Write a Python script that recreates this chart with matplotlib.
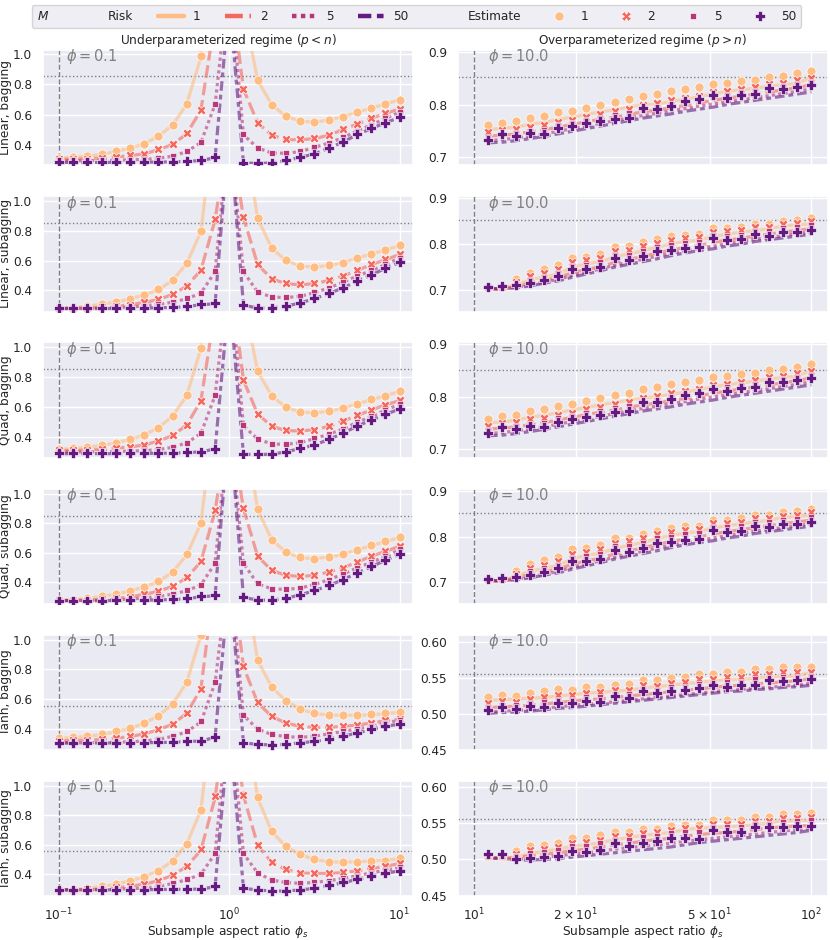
import numpy as np
import matplotlib
matplotlib.use("Agg")
import matplotlib.pyplot as plt
import matplotlib.ticker as mticker
from matplotlib.lines import Line2D
import seaborn as sns

nan = float("nan")

# ---------------- data ----------------
PHI_S_UNDER = [0.1, 0.1212, 0.1468, 0.1778, 0.2154, 0.2610, 0.3162, 0.3831, 0.4642, 0.5623,
               0.6813, 0.8254, 1.0, 1.2115, 1.4678, 1.7783, 2.1544, 2.6102, 3.1623, 3.8312,
               4.6416, 5.6234, 6.8129, 8.2540, 10.0]
PHI_S_OVER = [11.01, 12.12, 13.34, 14.68, 16.16, 17.78, 19.57, 21.54, 23.71, 26.10, 28.73, 31.62,
              34.81, 38.31, 42.17, 46.42, 51.09, 56.23, 61.90, 68.13, 74.99, 82.54, 90.85, 100.0]
M_VALUES = [1, 2, 5, 50]
PHI_VALUES = [0.1, 10.0]
ROW_LABELS = ["Linear, bagging", "Linear, subagging", "Quad, bagging",
              "Quad, subagging", "Tanh, bagging", "Tanh, subagging"]
COL_TITLES = ["Underparameterized regime ($p < n$)", "Overparameterized regime ($p > n$)"]
NULL_RISK = [0.852, 0.852, 0.852, 0.852, 0.556, 0.556]

# ---- Linear, bagging ----
LIN_BAG_UND_RISK_1 = [0.315, 0.321, 0.328, 0.34, 0.358, 0.38, 0.41, 0.458, 0.532, 0.668, 0.98, 3.0, 1.5, 1.3, 0.826, 0.665, 0.588, 0.559, 0.551, 0.565, 0.586, 0.616, 0.643, 0.67, 0.698]
LIN_BAG_UND_EST_1 = [0.316, 0.322, 0.329, 0.342, 0.36, 0.382, 0.411, 0.46, 0.533, 0.671, 0.984, nan, nan, nan, 0.829, 0.667, 0.589, 0.56, 0.551, 0.567, 0.587, 0.618, 0.644, 0.671, 0.70]
LIN_BAG_UND_RISK_2 = [0.308, 0.309, 0.311, 0.316, 0.323, 0.332, 0.343, 0.37, 0.405, 0.475, 0.63, 1.23, 1.5, 0.768, 0.547, 0.465, 0.436, 0.436, 0.443, 0.465, 0.502, 0.538, 0.576, 0.609, 0.638]
LIN_BAG_UND_EST_2 = [0.31, 0.31, 0.312, 0.317, 0.325, 0.333, 0.344, 0.373, 0.407, 0.478, 0.633, nan, nan, 0.771, 0.549, 0.467, 0.438, 0.438, 0.444, 0.467, 0.504, 0.54, 0.578, 0.611, 0.64]
LIN_BAG_UND_RISK_5 = [0.298, 0.298, 0.299, 0.299, 0.301, 0.304, 0.307, 0.314, 0.328, 0.358, 0.418, 0.668, 1.5, 0.468, 0.382, 0.349, 0.347, 0.358, 0.385, 0.414, 0.449, 0.494, 0.533, 0.576, 0.617]
LIN_BAG_UND_EST_5 = [0.30, 0.30, 0.30, 0.30, 0.302, 0.305, 0.308, 0.315, 0.33, 0.36, 0.422, 0.671, nan, 0.471, 0.384, 0.351, 0.349, 0.36, 0.387, 0.416, 0.451, 0.496, 0.535, 0.578, 0.62]
LIN_BAG_UND_RISK_50 = [0.287, 0.287, 0.287, 0.287, 0.287, 0.288, 0.289, 0.289, 0.291, 0.294, 0.299, 0.318, 1.35, 0.283, 0.281, 0.283, 0.299, 0.32, 0.343, 0.38, 0.42, 0.469, 0.509, 0.547, 0.582]
LIN_BAG_UND_EST_50 = [0.288, 0.288, 0.288, 0.288, 0.288, 0.29, 0.29, 0.29, 0.292, 0.295, 0.30, 0.32, nan, 0.284, 0.282, 0.284, 0.30, 0.322, 0.344, 0.382, 0.422, 0.471, 0.511, 0.549, 0.584]
LIN_BAG_OVR_RISK_1 = [0.753, 0.754, 0.757, 0.762, 0.766, 0.771, 0.776, 0.781, 0.786, 0.79, 0.795, 0.80, 0.80, 0.806, 0.81, 0.815, 0.82, 0.825, 0.828, 0.831, 0.835, 0.838, 0.84, 0.852]
LIN_BAG_OVR_EST_1 = [0.760, 0.765, 0.769, 0.775, 0.778, 0.785, 0.788, 0.794, 0.799, 0.805, 0.81, 0.817, 0.82, 0.826, 0.83, 0.833, 0.839, 0.842, 0.845, 0.847, 0.853, 0.855, 0.86, 0.863]
LIN_BAG_OVR_RISK_2 = [0.74, 0.741, 0.744, 0.748, 0.752, 0.757, 0.762, 0.767, 0.772, 0.776, 0.781, 0.786, 0.789, 0.794, 0.798, 0.803, 0.808, 0.812, 0.816, 0.82, 0.824, 0.828, 0.832, 0.838]
LIN_BAG_OVR_EST_2 = [0.747, 0.751, 0.753, 0.758, 0.761, 0.767, 0.771, 0.777, 0.781, 0.787, 0.792, 0.799, 0.803, 0.809, 0.813, 0.817, 0.823, 0.826, 0.83, 0.833, 0.839, 0.841, 0.846, 0.85]
LIN_BAG_OVR_RISK_5 = [0.731, 0.733, 0.736, 0.74, 0.744, 0.749, 0.754, 0.759, 0.764, 0.769, 0.774, 0.779, 0.783, 0.788, 0.792, 0.797, 0.801, 0.805, 0.809, 0.813, 0.817, 0.821, 0.825, 0.83]
LIN_BAG_OVR_EST_5 = [0.738, 0.744, 0.746, 0.75, 0.752, 0.76, 0.764, 0.77, 0.774, 0.78, 0.784, 0.79, 0.795, 0.801, 0.806, 0.81, 0.815, 0.819, 0.823, 0.826, 0.832, 0.835, 0.839, 0.843]
LIN_BAG_OVR_RISK_50 = [0.727, 0.728, 0.731, 0.735, 0.739, 0.744, 0.749, 0.754, 0.759, 0.764, 0.769, 0.774, 0.778, 0.782, 0.787, 0.791, 0.795, 0.80, 0.804, 0.808, 0.812, 0.816, 0.82, 0.824]
LIN_BAG_OVR_EST_50 = [0.732, 0.744, 0.739, 0.746, 0.744, 0.755, 0.759, 0.764, 0.768, 0.772, 0.774, 0.794, 0.792, 0.798, 0.806, 0.81, 0.818, 0.813, 0.818, 0.82, 0.831, 0.829, 0.834, 0.837]

# ---- Linear, subagging ----
LIN_SUB_UND_RISK_1 = [0.277, 0.28, 0.291, 0.304, 0.318, 0.34, 0.367, 0.402, 0.465, 0.58, 0.795, 1.6, 1.5, 1.5, 0.885, 0.682, 0.6, 0.562, 0.556, 0.566, 0.585, 0.615, 0.644, 0.671, 0.70]
LIN_SUB_UND_EST_1 = [0.277, 0.281, 0.293, 0.306, 0.319, 0.342, 0.369, 0.404, 0.467, 0.584, 0.798, nan, nan, nan, 0.888, 0.684, 0.601, 0.563, 0.557, 0.568, 0.586, 0.617, 0.646, 0.673, 0.702]
LIN_SUB_UND_RISK_2 = [0.276, 0.277, 0.279, 0.284, 0.29, 0.30, 0.316, 0.336, 0.37, 0.426, 0.535, 0.875, 1.5, 0.892, 0.572, 0.476, 0.443, 0.436, 0.443, 0.465, 0.494, 0.532, 0.572, 0.605, 0.64]
LIN_SUB_UND_EST_2 = [0.277, 0.278, 0.28, 0.285, 0.292, 0.302, 0.318, 0.338, 0.373, 0.429, 0.539, 0.881, nan, 0.897, 0.575, 0.478, 0.445, 0.438, 0.445, 0.467, 0.496, 0.534, 0.575, 0.608, 0.642]
LIN_SUB_UND_RISK_5 = [0.276, 0.276, 0.277, 0.279, 0.281, 0.285, 0.293, 0.303, 0.318, 0.341, 0.379, 0.524, 1.5, 0.524, 0.386, 0.353, 0.349, 0.358, 0.382, 0.414, 0.452, 0.494, 0.532, 0.572, 0.617]
LIN_SUB_UND_EST_5 = [0.277, 0.277, 0.278, 0.28, 0.283, 0.287, 0.295, 0.305, 0.32, 0.344, 0.382, 0.528, nan, 0.528, 0.389, 0.355, 0.351, 0.36, 0.384, 0.416, 0.454, 0.496, 0.534, 0.575, 0.62]
LIN_SUB_UND_RISK_50 = [0.275, 0.275, 0.275, 0.275, 0.276, 0.277, 0.278, 0.28, 0.283, 0.288, 0.301, 0.307, 1.5, 0.297, 0.279, 0.279, 0.291, 0.313, 0.342, 0.376, 0.414, 0.46, 0.502, 0.547, 0.587]
LIN_SUB_UND_EST_50 = [0.276, 0.276, 0.276, 0.276, 0.277, 0.278, 0.279, 0.282, 0.285, 0.29, 0.304, 0.31, nan, 0.30, 0.281, 0.281, 0.293, 0.315, 0.344, 0.378, 0.416, 0.463, 0.505, 0.55, 0.59]
LIN_SUB_OVR_RISK_1 = [0.702, 0.703, 0.712, 0.722, 0.729, 0.735, 0.75, 0.757, 0.762, 0.772, 0.779, 0.785, 0.794, 0.80, 0.806, 0.809, 0.817, 0.822, 0.826, 0.83, 0.834, 0.84, 0.842, 0.845]
LIN_SUB_OVR_EST_1 = [0.705, 0.707, 0.723, 0.738, 0.746, 0.754, 0.77, 0.773, 0.779, 0.794, 0.796, 0.804, 0.811, 0.817, 0.821, 0.822, 0.835, 0.835, 0.838, 0.845, 0.845, 0.851, 0.853, 0.858]
LIN_SUB_OVR_RISK_2 = [0.702, 0.702, 0.708, 0.715, 0.721, 0.727, 0.738, 0.745, 0.751, 0.76, 0.767, 0.773, 0.781, 0.787, 0.793, 0.797, 0.804, 0.809, 0.813, 0.818, 0.822, 0.827, 0.83, 0.834]
LIN_SUB_OVR_EST_2 = [0.706, 0.707, 0.717, 0.73, 0.737, 0.745, 0.761, 0.765, 0.771, 0.785, 0.788, 0.796, 0.803, 0.809, 0.813, 0.815, 0.827, 0.828, 0.831, 0.838, 0.838, 0.844, 0.846, 0.851]
LIN_SUB_OVR_RISK_5 = [0.703, 0.702, 0.706, 0.711, 0.717, 0.723, 0.732, 0.739, 0.746, 0.754, 0.761, 0.767, 0.774, 0.78, 0.786, 0.791, 0.796, 0.801, 0.806, 0.811, 0.815, 0.819, 0.823, 0.827]
LIN_SUB_OVR_EST_5 = [0.706, 0.707, 0.713, 0.722, 0.729, 0.737, 0.752, 0.755, 0.761, 0.777, 0.777, 0.785, 0.794, 0.798, 0.803, 0.805, 0.82, 0.819, 0.821, 0.83, 0.829, 0.835, 0.837, 0.842]
LIN_SUB_OVR_RISK_50 = [0.704, 0.702, 0.705, 0.709, 0.715, 0.72, 0.728, 0.735, 0.742, 0.75, 0.756, 0.762, 0.768, 0.775, 0.781, 0.786, 0.79, 0.796, 0.80, 0.806, 0.81, 0.814, 0.818, 0.822]
LIN_SUB_OVR_EST_50 = [0.707, 0.709, 0.711, 0.716, 0.722, 0.73, 0.745, 0.745, 0.75, 0.77, 0.766, 0.774, 0.785, 0.788, 0.792, 0.794, 0.813, 0.81, 0.812, 0.822, 0.819, 0.826, 0.827, 0.831]

# ---- Quad, bagging ----
QUAD_BAG_UND_RISK_1 = [0.318, 0.324, 0.331, 0.343, 0.361, 0.383, 0.413, 0.462, 0.538, 0.676, 0.99, 3.0, 1.5, 1.32, 0.836, 0.674, 0.596, 0.567, 0.56, 0.571, 0.591, 0.62, 0.648, 0.674, 0.703]
QUAD_BAG_UND_EST_1 = [0.32, 0.325, 0.332, 0.345, 0.362, 0.385, 0.415, 0.463, 0.54, 0.68, 0.995, nan, nan, nan, 0.84, 0.676, 0.597, 0.568, 0.562, 0.572, 0.592, 0.622, 0.65, 0.676, 0.705]
QUAD_BAG_UND_RISK_2 = [0.31, 0.311, 0.313, 0.318, 0.325, 0.334, 0.346, 0.373, 0.409, 0.48, 0.64, 1.25, 1.5, 0.778, 0.553, 0.471, 0.442, 0.441, 0.448, 0.47, 0.506, 0.542, 0.58, 0.613, 0.642]
QUAD_BAG_UND_EST_2 = [0.312, 0.312, 0.314, 0.319, 0.327, 0.335, 0.347, 0.376, 0.411, 0.483, 0.643, nan, nan, 0.781, 0.555, 0.473, 0.444, 0.443, 0.449, 0.472, 0.508, 0.544, 0.582, 0.615, 0.644]
QUAD_BAG_UND_RISK_5 = [0.30, 0.30, 0.301, 0.301, 0.303, 0.306, 0.309, 0.316, 0.331, 0.361, 0.423, 0.676, 1.5, 0.474, 0.386, 0.353, 0.351, 0.362, 0.389, 0.418, 0.453, 0.497, 0.536, 0.578, 0.618]
QUAD_BAG_UND_EST_5 = [0.302, 0.302, 0.302, 0.302, 0.304, 0.307, 0.31, 0.317, 0.333, 0.363, 0.426, 0.68, nan, 0.477, 0.388, 0.355, 0.353, 0.364, 0.391, 0.42, 0.455, 0.50, 0.538, 0.581, 0.621]
QUAD_BAG_UND_RISK_50 = [0.289, 0.289, 0.289, 0.289, 0.289, 0.29, 0.291, 0.291, 0.293, 0.296, 0.301, 0.32, 1.35, 0.285, 0.283, 0.285, 0.301, 0.323, 0.346, 0.383, 0.424, 0.472, 0.512, 0.55, 0.586]
QUAD_BAG_UND_EST_50 = [0.29, 0.29, 0.29, 0.29, 0.29, 0.291, 0.292, 0.292, 0.294, 0.297, 0.302, 0.322, nan, 0.286, 0.284, 0.286, 0.302, 0.324, 0.347, 0.385, 0.426, 0.474, 0.514, 0.552, 0.588]
QUAD_BAG_OVR_RISK_1 = [0.751, 0.752, 0.756, 0.761, 0.765, 0.77, 0.775, 0.78, 0.785, 0.789, 0.794, 0.798, 0.80, 0.805, 0.809, 0.814, 0.819, 0.823, 0.827, 0.83, 0.834, 0.837, 0.84, 0.85]
QUAD_BAG_OVR_EST_1 = [0.758, 0.764, 0.766, 0.774, 0.777, 0.783, 0.787, 0.792, 0.798, 0.803, 0.808, 0.816, 0.819, 0.824, 0.829, 0.832, 0.838, 0.84, 0.844, 0.846, 0.852, 0.853, 0.858, 0.862]
QUAD_BAG_OVR_RISK_2 = [0.739, 0.74, 0.743, 0.747, 0.751, 0.756, 0.761, 0.766, 0.771, 0.775, 0.78, 0.785, 0.788, 0.793, 0.797, 0.802, 0.807, 0.811, 0.815, 0.819, 0.823, 0.827, 0.831, 0.837]
QUAD_BAG_OVR_EST_2 = [0.745, 0.75, 0.752, 0.757, 0.76, 0.766, 0.77, 0.776, 0.78, 0.786, 0.79, 0.798, 0.802, 0.808, 0.812, 0.816, 0.822, 0.825, 0.829, 0.832, 0.838, 0.84, 0.845, 0.849]
QUAD_BAG_OVR_RISK_5 = [0.73, 0.732, 0.735, 0.739, 0.743, 0.748, 0.753, 0.758, 0.763, 0.768, 0.773, 0.778, 0.782, 0.787, 0.791, 0.796, 0.80, 0.804, 0.808, 0.812, 0.816, 0.82, 0.824, 0.829]
QUAD_BAG_OVR_EST_5 = [0.737, 0.743, 0.745, 0.749, 0.751, 0.759, 0.763, 0.769, 0.773, 0.779, 0.783, 0.789, 0.794, 0.80, 0.805, 0.809, 0.814, 0.818, 0.822, 0.825, 0.831, 0.834, 0.838, 0.842]
QUAD_BAG_OVR_RISK_50 = [0.726, 0.727, 0.73, 0.734, 0.738, 0.743, 0.748, 0.753, 0.758, 0.763, 0.768, 0.773, 0.777, 0.781, 0.786, 0.79, 0.794, 0.799, 0.803, 0.807, 0.811, 0.815, 0.819, 0.823]
QUAD_BAG_OVR_EST_50 = [0.731, 0.742, 0.738, 0.745, 0.743, 0.753, 0.757, 0.762, 0.766, 0.771, 0.773, 0.791, 0.79, 0.796, 0.804, 0.808, 0.816, 0.812, 0.817, 0.819, 0.829, 0.828, 0.833, 0.836]

# ---- Quad, subagging ----
QUAD_SUB_UND_RISK_1 = [0.279, 0.282, 0.293, 0.306, 0.32, 0.343, 0.37, 0.405, 0.47, 0.586, 0.80, 1.6, 1.5, 1.5, 0.892, 0.688, 0.605, 0.567, 0.561, 0.571, 0.59, 0.62, 0.649, 0.676, 0.704]
QUAD_SUB_UND_EST_1 = [0.279, 0.283, 0.295, 0.308, 0.322, 0.345, 0.372, 0.408, 0.472, 0.59, 0.805, nan, nan, nan, 0.895, 0.69, 0.607, 0.569, 0.562, 0.573, 0.591, 0.622, 0.651, 0.678, 0.706]
QUAD_SUB_UND_RISK_2 = [0.278, 0.279, 0.281, 0.286, 0.292, 0.303, 0.319, 0.34, 0.374, 0.431, 0.541, 0.884, 1.5, 0.90, 0.577, 0.481, 0.448, 0.441, 0.448, 0.47, 0.499, 0.537, 0.577, 0.61, 0.644]
QUAD_SUB_UND_EST_2 = [0.279, 0.28, 0.282, 0.287, 0.294, 0.305, 0.321, 0.342, 0.377, 0.434, 0.545, 0.89, nan, 0.905, 0.58, 0.483, 0.45, 0.443, 0.45, 0.472, 0.501, 0.539, 0.58, 0.613, 0.646]
QUAD_SUB_UND_RISK_5 = [0.278, 0.278, 0.279, 0.281, 0.283, 0.287, 0.295, 0.305, 0.321, 0.344, 0.383, 0.53, 1.5, 0.53, 0.39, 0.357, 0.353, 0.362, 0.386, 0.418, 0.456, 0.498, 0.536, 0.576, 0.621]
QUAD_SUB_UND_EST_5 = [0.279, 0.279, 0.28, 0.282, 0.285, 0.289, 0.297, 0.307, 0.323, 0.347, 0.386, 0.535, nan, 0.534, 0.393, 0.359, 0.355, 0.364, 0.388, 0.42, 0.458, 0.50, 0.538, 0.579, 0.624]
QUAD_SUB_UND_RISK_50 = [0.277, 0.277, 0.277, 0.277, 0.278, 0.279, 0.28, 0.282, 0.285, 0.29, 0.303, 0.31, 1.5, 0.299, 0.281, 0.281, 0.293, 0.316, 0.345, 0.379, 0.418, 0.464, 0.506, 0.55, 0.591]
QUAD_SUB_UND_EST_50 = [0.277, 0.277, 0.277, 0.277, 0.278, 0.279, 0.281, 0.283, 0.286, 0.292, 0.306, 0.313, nan, 0.302, 0.283, 0.283, 0.295, 0.318, 0.347, 0.381, 0.42, 0.467, 0.509, 0.553, 0.594]
QUAD_SUB_OVR_RISK_1 = [0.703, 0.704, 0.714, 0.724, 0.731, 0.737, 0.752, 0.759, 0.764, 0.774, 0.781, 0.787, 0.796, 0.802, 0.808, 0.811, 0.819, 0.824, 0.828, 0.832, 0.836, 0.842, 0.844, 0.847]
QUAD_SUB_OVR_EST_1 = [0.706, 0.708, 0.725, 0.74, 0.748, 0.756, 0.772, 0.775, 0.781, 0.796, 0.798, 0.806, 0.813, 0.819, 0.823, 0.824, 0.837, 0.837, 0.84, 0.847, 0.847, 0.853, 0.855, 0.86]
QUAD_SUB_OVR_RISK_2 = [0.703, 0.703, 0.71, 0.717, 0.723, 0.729, 0.74, 0.747, 0.753, 0.762, 0.769, 0.775, 0.783, 0.789, 0.795, 0.799, 0.806, 0.811, 0.815, 0.82, 0.824, 0.829, 0.832, 0.836]
QUAD_SUB_OVR_EST_2 = [0.707, 0.708, 0.719, 0.732, 0.739, 0.747, 0.763, 0.767, 0.773, 0.787, 0.79, 0.798, 0.805, 0.811, 0.815, 0.817, 0.829, 0.83, 0.833, 0.84, 0.84, 0.846, 0.848, 0.853]
QUAD_SUB_OVR_RISK_5 = [0.704, 0.703, 0.707, 0.712, 0.718, 0.724, 0.733, 0.74, 0.747, 0.755, 0.762, 0.768, 0.775, 0.781, 0.787, 0.792, 0.797, 0.802, 0.807, 0.812, 0.816, 0.82, 0.824, 0.828]
QUAD_SUB_OVR_EST_5 = [0.707, 0.708, 0.715, 0.724, 0.731, 0.739, 0.754, 0.757, 0.763, 0.779, 0.779, 0.787, 0.796, 0.80, 0.805, 0.807, 0.822, 0.821, 0.823, 0.832, 0.831, 0.837, 0.839, 0.844]
QUAD_SUB_OVR_RISK_50 = [0.705, 0.703, 0.706, 0.71, 0.716, 0.721, 0.729, 0.736, 0.743, 0.751, 0.757, 0.763, 0.769, 0.776, 0.782, 0.787, 0.791, 0.797, 0.801, 0.807, 0.811, 0.815, 0.819, 0.823]
QUAD_SUB_OVR_EST_50 = [0.708, 0.71, 0.712, 0.717, 0.723, 0.731, 0.746, 0.746, 0.751, 0.771, 0.767, 0.775, 0.786, 0.789, 0.793, 0.795, 0.814, 0.811, 0.813, 0.823, 0.82, 0.827, 0.828, 0.832]

# ---- Tanh, bagging ----
TANH_BAG_UND_RISK_1 = [0.336, 0.34, 0.349, 0.36, 0.38, 0.402, 0.436, 0.487, 0.565, 0.712, 1.03, 2.2, 1.5, 1.45, 0.86, 0.68, 0.587, 0.532, 0.503, 0.492, 0.491, 0.491, 0.494, 0.502, 0.51]
TANH_BAG_UND_EST_1 = [0.338, 0.342, 0.351, 0.362, 0.382, 0.404, 0.438, 0.489, 0.567, 0.716, 1.03, nan, nan, nan, 0.862, 0.682, 0.589, 0.533, 0.504, 0.493, 0.493, 0.493, 0.496, 0.504, 0.511]
TANH_BAG_UND_RISK_2 = [0.319, 0.321, 0.324, 0.328, 0.336, 0.347, 0.365, 0.393, 0.43, 0.504, 0.667, 1.44, 1.57, 0.818, 0.575, 0.482, 0.438, 0.416, 0.409, 0.409, 0.416, 0.425, 0.438, 0.454, 0.465]
TANH_BAG_UND_EST_2 = [0.32, 0.322, 0.325, 0.329, 0.338, 0.349, 0.367, 0.396, 0.433, 0.507, 0.671, nan, nan, 0.822, 0.578, 0.484, 0.44, 0.418, 0.411, 0.411, 0.418, 0.427, 0.44, 0.456, 0.467]
TANH_BAG_UND_RISK_5 = [0.304, 0.304, 0.306, 0.307, 0.309, 0.312, 0.317, 0.328, 0.349, 0.379, 0.445, 0.71, 1.5, 0.49, 0.398, 0.36, 0.347, 0.342, 0.349, 0.365, 0.382, 0.398, 0.416, 0.438, 0.458]
TANH_BAG_UND_EST_5 = [0.305, 0.305, 0.307, 0.308, 0.31, 0.313, 0.318, 0.33, 0.351, 0.382, 0.449, 0.716, nan, 0.493, 0.40, 0.362, 0.349, 0.344, 0.351, 0.367, 0.384, 0.40, 0.418, 0.44, 0.46]
TANH_BAG_UND_RISK_50 = [0.304, 0.304, 0.304, 0.304, 0.304, 0.305, 0.306, 0.307, 0.309, 0.314, 0.317, 0.342, 1.4, 0.305, 0.294, 0.291, 0.294, 0.305, 0.314, 0.331, 0.349, 0.371, 0.394, 0.416, 0.431]
TANH_BAG_UND_EST_50 = [0.305, 0.305, 0.305, 0.305, 0.305, 0.306, 0.307, 0.308, 0.31, 0.316, 0.318, 0.344, nan, 0.307, 0.296, 0.293, 0.296, 0.307, 0.316, 0.333, 0.351, 0.373, 0.396, 0.418, 0.433]
TANH_BAG_OVR_RISK_1 = [0.519, 0.52, 0.521, 0.522, 0.523, 0.525, 0.527, 0.529, 0.53, 0.532, 0.533, 0.536, 0.538, 0.54, 0.542, 0.544, 0.546, 0.548, 0.548, 0.55, 0.551, 0.552, 0.553, 0.558]
TANH_BAG_OVR_EST_1 = [0.524, 0.526, 0.525, 0.529, 0.532, 0.535, 0.534, 0.537, 0.538, 0.541, 0.542, 0.547, 0.547, 0.55, 0.551, 0.555, 0.556, 0.558, 0.558, 0.562, 0.562, 0.565, 0.566, 0.566]
TANH_BAG_OVR_RISK_2 = [0.509, 0.51, 0.511, 0.512, 0.514, 0.516, 0.518, 0.52, 0.521, 0.523, 0.525, 0.527, 0.529, 0.531, 0.533, 0.535, 0.537, 0.539, 0.54, 0.542, 0.543, 0.545, 0.546, 0.55]
TANH_BAG_OVR_EST_2 = [0.515, 0.518, 0.517, 0.521, 0.523, 0.527, 0.526, 0.529, 0.53, 0.534, 0.534, 0.54, 0.539, 0.543, 0.544, 0.548, 0.548, 0.551, 0.551, 0.555, 0.555, 0.558, 0.558, 0.559]
TANH_BAG_OVR_RISK_5 = [0.503, 0.504, 0.505, 0.506, 0.508, 0.51, 0.512, 0.514, 0.515, 0.517, 0.519, 0.521, 0.523, 0.525, 0.527, 0.529, 0.531, 0.533, 0.534, 0.536, 0.537, 0.539, 0.54, 0.543]
TANH_BAG_OVR_EST_5 = [0.51, 0.513, 0.512, 0.515, 0.517, 0.52, 0.52, 0.523, 0.524, 0.528, 0.528, 0.534, 0.533, 0.537, 0.538, 0.542, 0.542, 0.545, 0.545, 0.549, 0.549, 0.552, 0.552, 0.553]
TANH_BAG_OVR_RISK_50 = [0.501, 0.502, 0.503, 0.504, 0.506, 0.508, 0.509, 0.511, 0.513, 0.515, 0.517, 0.519, 0.521, 0.523, 0.525, 0.527, 0.529, 0.531, 0.532, 0.534, 0.535, 0.537, 0.538, 0.54]
TANH_BAG_OVR_EST_50 = [0.505, 0.51, 0.507, 0.511, 0.51, 0.515, 0.515, 0.518, 0.517, 0.525, 0.522, 0.532, 0.529, 0.532, 0.534, 0.536, 0.541, 0.538, 0.541, 0.541, 0.547, 0.546, 0.547, 0.549]

# ---- Tanh, subagging ----
TANH_SUB_UND_RISK_1 = [0.295, 0.296, 0.304, 0.315, 0.333, 0.355, 0.382, 0.423, 0.49, 0.605, 0.835, 1.67, 1.5, 1.57, 0.918, 0.688, 0.588, 0.532, 0.501, 0.484, 0.482, 0.484, 0.49, 0.494, 0.505]
TANH_SUB_UND_EST_1 = [0.295, 0.297, 0.306, 0.317, 0.335, 0.357, 0.384, 0.425, 0.492, 0.608, 0.839, nan, nan, nan, 0.922, 0.691, 0.59, 0.534, 0.503, 0.485, 0.483, 0.485, 0.492, 0.492, 0.507]
TANH_SUB_UND_RISK_2 = [0.294, 0.294, 0.296, 0.299, 0.308, 0.318, 0.333, 0.355, 0.393, 0.452, 0.563, 0.92, 1.6, 0.935, 0.597, 0.478, 0.432, 0.409, 0.405, 0.405, 0.411, 0.423, 0.438, 0.454, 0.472]
TANH_SUB_UND_EST_2 = [0.295, 0.295, 0.297, 0.30, 0.31, 0.32, 0.335, 0.357, 0.396, 0.456, 0.568, 0.928, nan, 0.94, 0.60, 0.48, 0.434, 0.411, 0.407, 0.407, 0.413, 0.425, 0.44, 0.456, 0.474]
TANH_SUB_UND_RISK_5 = [0.294, 0.294, 0.294, 0.296, 0.298, 0.301, 0.306, 0.316, 0.337, 0.363, 0.399, 0.54, 1.55, 0.54, 0.408, 0.36, 0.344, 0.338, 0.344, 0.355, 0.371, 0.389, 0.409, 0.427, 0.445]
TANH_SUB_UND_EST_5 = [0.295, 0.295, 0.295, 0.297, 0.299, 0.302, 0.308, 0.318, 0.34, 0.366, 0.402, 0.546, nan, 0.546, 0.411, 0.362, 0.346, 0.34, 0.346, 0.357, 0.373, 0.391, 0.411, 0.429, 0.447]
TANH_SUB_UND_RISK_50 = [0.294, 0.294, 0.294, 0.294, 0.294, 0.294, 0.295, 0.296, 0.297, 0.298, 0.299, 0.315, 1.4, 0.304, 0.293, 0.286, 0.286, 0.293, 0.304, 0.322, 0.342, 0.364, 0.387, 0.405, 0.423]
TANH_SUB_UND_EST_50 = [0.295, 0.295, 0.295, 0.295, 0.295, 0.295, 0.296, 0.297, 0.298, 0.299, 0.30, 0.317, nan, 0.306, 0.295, 0.288, 0.288, 0.295, 0.306, 0.324, 0.344, 0.366, 0.389, 0.407, 0.425]
TANH_SUB_OVR_RISK_1 = [0.502, 0.502, 0.503, 0.508, 0.511, 0.514, 0.518, 0.52, 0.523, 0.527, 0.53, 0.533, 0.535, 0.537, 0.541, 0.543, 0.544, 0.545, 0.546, 0.548, 0.55, 0.553, 0.553, 0.554]
TANH_SUB_OVR_EST_1 = [0.505, 0.505, 0.512, 0.519, 0.52, 0.523, 0.529, 0.53, 0.533, 0.538, 0.538, 0.542, 0.542, 0.546, 0.548, 0.548, 0.554, 0.554, 0.554, 0.558, 0.558, 0.562, 0.562, 0.564]
TANH_SUB_OVR_RISK_2 = [0.502, 0.502, 0.502, 0.505, 0.507, 0.509, 0.512, 0.514, 0.517, 0.52, 0.522, 0.525, 0.527, 0.529, 0.532, 0.534, 0.536, 0.537, 0.539, 0.541, 0.543, 0.545, 0.546, 0.547]
TANH_SUB_OVR_EST_2 = [0.505, 0.505, 0.508, 0.513, 0.514, 0.517, 0.523, 0.524, 0.527, 0.532, 0.532, 0.536, 0.537, 0.541, 0.543, 0.543, 0.549, 0.549, 0.549, 0.553, 0.553, 0.557, 0.557, 0.559]
TANH_SUB_OVR_RISK_5 = [0.502, 0.501, 0.50, 0.501, 0.503, 0.505, 0.507, 0.509, 0.511, 0.514, 0.516, 0.518, 0.52, 0.522, 0.525, 0.527, 0.529, 0.531, 0.533, 0.535, 0.537, 0.539, 0.541, 0.543]
TANH_SUB_OVR_EST_5 = [0.505, 0.505, 0.505, 0.509, 0.51, 0.513, 0.518, 0.519, 0.522, 0.527, 0.527, 0.531, 0.532, 0.536, 0.538, 0.538, 0.545, 0.544, 0.544, 0.549, 0.549, 0.552, 0.553, 0.554]
TANH_SUB_OVR_RISK_50 = [0.502, 0.501, 0.499, 0.499, 0.50, 0.501, 0.503, 0.505, 0.507, 0.509, 0.511, 0.513, 0.515, 0.517, 0.52, 0.523, 0.525, 0.527, 0.529, 0.531, 0.533, 0.535, 0.537, 0.54]
TANH_SUB_OVR_EST_50 = [0.507, 0.507, 0.501, 0.502, 0.503, 0.505, 0.511, 0.51, 0.513, 0.522, 0.519, 0.522, 0.525, 0.529, 0.53, 0.528, 0.54, 0.538, 0.537, 0.545, 0.544, 0.545, 0.546, 0.546]

Y_LIMS_UND = [(0.268, 1.025), (0.255, 1.035), (0.262, 1.03), (0.255, 1.035), (0.256, 1.033), (0.25, 1.033)]
Y_LIMS_OVR = [(0.684, 0.904), (0.653, 0.905), (0.684, 0.904), (0.653, 0.905), (0.453, 0.61), (0.449, 0.608)]

ROW_KEYS = ["LIN_BAG", "LIN_SUB", "QUAD_BAG", "QUAD_SUB", "TANH_BAG", "TANH_SUB"]
COL_KEYS = ["UND", "OVR"]
_G = globals()

def series(row, col, kind, m):
    return np.array(_G[f"{ROW_KEYS[row]}_{COL_KEYS[col]}_{kind}_{m}"], dtype=float)

# ---------------- style ----------------
sns.set_theme(style="darkgrid")
plt.rcParams["font.family"] = ["DejaVu Sans"]
FS = 8.7
plt.rcParams.update({"xtick.labelsize": FS, "ytick.labelsize": FS,
                     "axes.labelsize": FS, "axes.titlesize": FS, "legend.fontsize": FS})

cmap = plt.get_cmap("magma")
COLORS = [cmap(0.86), cmap(0.68), cmap(0.5), cmap(0.3)]
DASHES = [None, (4, 1.5), (1, 1), (3, 1.25, 1.5, 1.25)]
MARKERS = ["o", "X", (4, 0, 45), "P"]
LW = 2.3

fig = plt.figure(figsize=(8.3, 9.4), dpi=100)
gs = fig.add_gridspec(6, 2, left=0.0518, right=0.9976, top=0.9468, bottom=0.0465,
                      wspace=0.1216, hspace=0.268)

for r in range(6):
    for c in range(2):
        ax = fig.add_subplot(gs[r, c])
        x = np.array(PHI_S_UNDER if c == 0 else PHI_S_OVER)
        for i, m in enumerate(M_VALUES):
            y = series(r, c, "RISK", m)
            kw = dict(color=COLORS[i], lw=LW, alpha=0.6, zorder=2)
            if DASHES[i] is not None:
                kw["dashes"] = DASHES[i]
            ax.plot(x, y, **kw)
        for i, m in enumerate(M_VALUES):
            e = series(r, c, "EST", m)
            ok = np.isfinite(e)
            ax.scatter(x[ok], e[ok], marker=MARKERS[i], s=42, color=COLORS[i],
                       edgecolor="white", linewidth=0.45, zorder=3)
        phi = PHI_VALUES[c]
        ax.axvline(phi, color="gray", ls="--", lw=1.0, zorder=1.5)
        ax.axhline(NULL_RISK[r], color="gray", ls=":", lw=1.0, zorder=1.5)
        ax.set_xscale("log")
        ax.text(phi * 1.1, 0.94, r"$\phi = %s$" % ("0.1" if c == 0 else "10.0"),
                transform=ax.get_xaxis_transform(), color="gray", fontsize=10.5,
                va="center", ha="left")
        if c == 0:
            ax.set_xlim(0.0805, 12.0)
            ax.set_ylim(*Y_LIMS_UND[r])
            ax.set_yticks([0.4, 0.6, 0.8, 1.0])
            ax.set_ylabel(ROW_LABELS[r], labelpad=0.5)
        else:
            ax.set_xlim(8.97, 112.0)
            ax.set_ylim(*Y_LIMS_OVR[r])
            ax.set_xticks([10, 20, 50, 100])
            ax.set_xticklabels([r"$\mathdefault{10^{1}}$", r"$\mathdefault{2\times10^{1}}$",
                                r"$\mathdefault{5\times10^{1}}$", r"$\mathdefault{10^{2}}$"])
            ax.xaxis.set_minor_locator(mticker.NullLocator())
            if r >= 4:
                ax.set_yticks([0.45, 0.50, 0.55, 0.60])
                ax.yaxis.set_major_formatter(mticker.FormatStrFormatter("%.2f"))
            else:
                ax.set_yticks([0.7, 0.8, 0.9])
        if r == 0:
            ax.set_title(COL_TITLES[c], pad=4)
        if r == 5:
            ax.set_xlabel(r"Subsample aspect ratio $\phi_s$", labelpad=0)
        else:
            ax.tick_params(labelbottom=False)
        ax.tick_params(axis="y", pad=2)
        ax.tick_params(axis="x", pad=1.5)

# ---------------- legend ----------------
blank = Line2D([], [], linestyle="none", marker="none")
handles = [blank, blank]
labels = ["$M$", "Risk"]
for i, m in enumerate(M_VALUES):
    kw = dict(color=COLORS[i], lw=3.2)
    if DASHES[i] is not None:
        kw["dashes"] = DASHES[i]
    handles.append(Line2D([], [], **kw))
    labels.append(str(m))
handles.append(blank)
labels.append("Estimate")
for i, m in enumerate(M_VALUES):
    handles.append(Line2D([], [], linestyle="none", marker=MARKERS[i], markersize=6.5,
                          color=COLORS[i], markeredgecolor="white", markeredgewidth=0.45))
    labels.append(str(m))

leg = fig.legend(handles, labels, ncol=11, loc="upper center",
                 bbox_to_anchor=(0.502, 1 - 5 / 940), frameon=True, borderaxespad=0,
                 handlelength=2.2, handletextpad=0.7, columnspacing=2.0,
                 borderpad=0.4, fontsize=FS)
try:
    for col in leg._legend_handle_box.get_children():
        for hp in col.get_children():
            da, ta = hp.get_children()
            if ta.get_text() == "$M$":
                da.set_width(0)
                hp.sep = 0
except Exception:
    pass

fig.savefig("out.png", dpi=100, facecolor="white")
